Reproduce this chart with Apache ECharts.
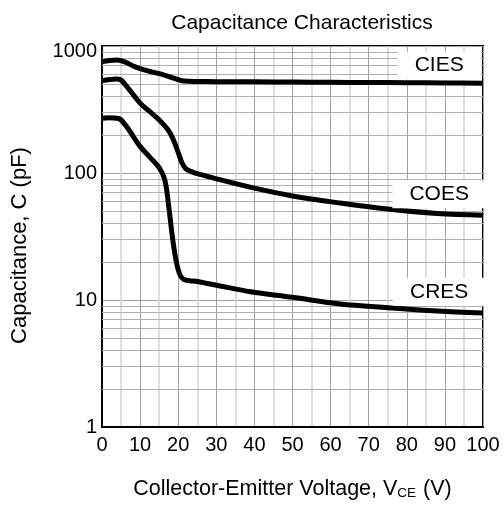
<!DOCTYPE html>
<html>
<head>
<meta charset="utf-8">
<script src="https://cdn.jsdelivr.net/npm/echarts@6/dist/echarts.min.js"></script>
<style>html,body{margin:0;padding:0;background:#fff}#c{width:504px;height:507px}</style>
</head>
<body>
<div id="c"></div>
<script>
// Data
const ciesX = [0, 2, 4, 6, 8, 10, 13, 16, 19, 21, 23, 25, 30, 40, 50, 60, 70, 80, 90, 100];
const ciesY = [755, 770, 775, 750, 700, 665, 625, 595, 555, 532, 527, 525, 524, 522, 520, 518, 516, 514, 512, 510];
const coesX = [0, 2, 4, 5, 7, 10, 12.5, 15, 17.5, 19, 20, 21, 22, 24, 25, 30, 40, 50, 62.5, 75, 88, 100];
const coesY = [535, 545, 550, 540, 460, 355, 305, 262, 215, 175, 145, 120, 108, 101, 99, 90, 76, 66, 58, 52, 48, 46.5];
const cresX = [0, 2, 4, 5, 7, 10, 12.5, 15, 16.5, 17.5, 18.5, 19.5, 20.5, 21.5, 23, 25, 31, 39, 50, 62.5, 75, 88, 100];
const cresY = [270, 272, 270, 262, 220, 162, 134, 110, 88, 55, 31, 20, 15.7, 14.5, 14.2, 14.0, 12.9, 11.6, 10.5, 9.3, 8.7, 8.2, 7.9];
const xTicks = [0, 10, 20, 30, 40, 50, 60, 70, 80, 90, 100];
const yTicks = [1, 10, 100, 1000];
const yMinor = [2,3,4,5,6,7,8,9,20,30,40,50,60,70,80,90,200,300,400,500,600,700,800,900];
const labelNames = ['CIES', 'COES', 'CRES'];
const labelX = [88.5, 88.5, 88.5];
const labelY = [700, 68, 11.6];

const zip = (xs, ys) => xs.map((v, i) => [v, ys[i]]);
const font = 'Liberation Sans, Arial, sans-serif';

const chart = echarts.init(document.getElementById('c'));
const curve = (name, xs, ys) => ({
  type: 'line', name, data: zip(xs, ys), smooth: 0.35, symbol: 'none', z: 5,
  lineStyle: {color: '#000', width: 5}
});
chart.setOption({
  animation: false,
  title: {
    text: 'Capacitance Characteristics',
    left: 297, top: 8, textAlign: 'center',
    textStyle: {fontFamily: font, fontSize: 21, fontWeight: 'normal', color: '#000'}
  },
  grid: {left: 102, right: 21, top: 46, bottom: 80, show: true, borderColor: '#000', borderWidth: 2},
  xAxis: {
    type: 'value', min: 0, max: 100, interval: 10,
    axisLine: {show: true, onZero: false, lineStyle: {color: '#000', width: 2}},
    axisTick: {show: false},
    axisLabel: {fontFamily: font, fontSize: 20, color: '#000', margin: 8,
      formatter: v => xTicks.includes(v) ? String(v) : ''},
    splitLine: {show: true, lineStyle: {color: '#a0a0a0', width: 1}},
    minorTick: {show: false, splitNumber: 2},
    minorSplitLine: {show: true, lineStyle: {color: '#d4d4d4', width: 1.5}},
    name: '{a|Collector-Emitter Voltage, V}{s|CE}{a| (V)}',
    nameLocation: 'middle', nameGap: 51,
    nameTextStyle: {rich: {
      a: {fontFamily: font, fontSize: 21.5, color: '#000', lineHeight: 22},
      s: {fontFamily: font, fontSize: 13.5, color: '#000', verticalAlign: 'bottom', lineHeight: 22, padding: [9, 1, 0, 0]}
    }}
  },
  yAxis: {
    type: 'log', logBase: 10, min: 1, max: 1000,
    axisLine: {show: true, lineStyle: {color: '#000', width: 2}},
    axisTick: {show: false},
    axisLabel: {fontFamily: font, fontSize: 20, color: '#000', margin: 5,
      formatter: v => v === 1000 ? '{t|1000}' : (yTicks.includes(v) ? String(v) : ''),
      rich: {t: {fontFamily: font, fontSize: 20, color: '#000', padding: [10, 0, 0, 0]}}},
    splitLine: {show: true, lineStyle: {color: '#a0a0a0', width: 1}},
    name: 'Capacitance, C (pF)', nameLocation: 'middle', nameGap: 71,
    nameTextStyle: {fontFamily: font, fontSize: 22, color: '#000', padding: [0, 18, 0, 0]}
  },
  series: [
    {
      type: 'line', data: [], silent: true, z: 1,
      markLine: {
        silent: true, symbol: 'none', label: {show: false},
        lineStyle: {color: '#b0b0b0', width: 1, type: 'solid'},
        data: yMinor.map(v => ({yAxis: v}))
      }
    },
    curve('CIES', ciesX, ciesY),
    curve('COES', coesX, coesY),
    curve('CRES', cresX, cresY)
  ]
});

const graphics = labelNames.map((n, i) => {
  const p = chart.convertToPixel({gridIndex: 0}, [labelX[i], labelY[i]]);
  return {
    type: 'text', x: p[0], y: p[1], z: 100,
    style: {
      text: n, fontFamily: font, fontSize: 21, fill: '#000',
      align: 'center', verticalAlign: 'middle',
      backgroundColor: '#fff', padding: [4, 17, 3, 17]
    }
  };
});
chart.setOption({graphic: graphics});
</script>
</body>
</html>
